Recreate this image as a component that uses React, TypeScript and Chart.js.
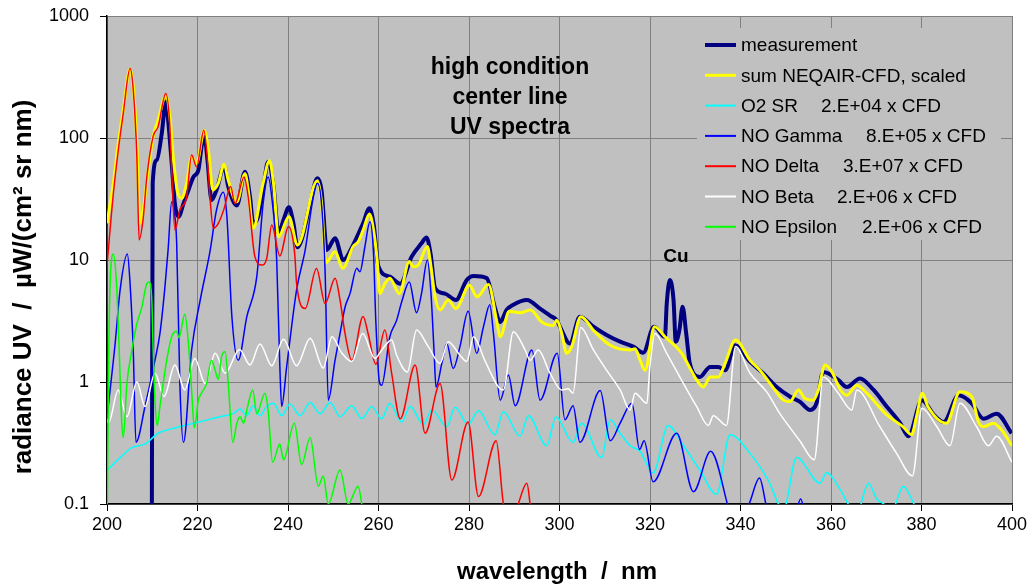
import React, { useEffect, useRef } from "react";
import { Chart, registerables } from "chart.js";

Chart.register(...registerables);

// ---------- axis ticks ----------
const xTicks = [200, 220, 240, 260, 280, 300, 320, 340, 360, 380, 400];
const yTicks = [0.1, 1, 10, 100, 1000];

// ---------- measurement ----------
const measX = [209.9, 210.1, 211.0, 212.1, 213.0, 213.5, 214.3, 215.0, 215.8, 216.9, 218.0, 219.1, 220.2, 220.9, 221.5, 222.2, 223.1, 224.2, 225.9, 226.8, 228.7, 230.5, 231.6, 232.3, 233.4, 234.5, 235.6, 236.8, 237.9, 239.0, 240.2, 241.2, 242.1, 243.0, 244.9, 246.5, 247.4, 248.6, 250.4, 252.2, 254.4, 256.6, 258.0, 258.9, 260.0, 262.5, 264.8, 267.3, 269.5, 270.6, 271.5, 272.5, 274.7, 277.1, 279.5, 281.0, 283.9, 285.7, 286.9, 288.3, 289.8, 292.8, 295.7, 297.9, 299.4, 300.1, 302.3, 304.5, 307.5, 310.4, 313.4, 316.3, 318.5, 320.9, 323.3, 323.7, 324.4, 325.2, 325.7, 326.5, 327.2, 328.0, 328.8, 331.0, 333.3, 335.1, 336.6, 338.8, 342.1, 345.0, 348.0, 350.9, 353.1, 355.4, 356.8, 358.3, 361.6, 363.5, 366.4, 369.4, 372.3, 375.3, 377.1, 380.1, 382.7, 384.9, 388.2, 391.1, 393.7, 396.6, 399.9];
const measY = [0.05, 42.6, 66, 109, 199, 141, 62, 29, 22.6, 29, 37.5, 48, 54.7, 85, 108, 66, 31, 37.5, 58, 40, 28, 53, 33, 20, 22.6, 37.5, 64, 40, 16.6, 21.3, 27, 20, 12.7, 14.6, 29, 46.8, 37.5, 12.1, 15.1, 10, 13.3, 20, 26.5, 20, 8.8, 7.3, 6.4, 10.6, 13.7, 15.3, 11.3, 5.9, 5.3, 4.7, 6.85, 7.4, 7.1, 4.1, 3.1, 3.9, 4.3, 4.7, 4.0, 3.5, 3.2, 2.84, 2.07, 3.43, 2.84, 2.43, 2.14, 1.95, 1.74, 2.84, 2.35, 4.4, 6.85, 4.7, 2.14, 2.67, 4.14, 2.5, 1.42, 1.1, 1.33, 1.33, 1.25, 2.0, 1.47, 1.18, 0.91, 0.76, 0.69, 0.59, 0.67, 1.21, 1.04, 0.91, 1.07, 0.86, 0.63, 0.46, 0.36, 0.71, 0.54, 0.47, 0.78, 0.67, 0.5, 0.55, 0.38];

// ---------- sum NEQAIR-CFD, scaled ----------
const sumX = [200.0, 201.4, 202.5, 203.6, 205.1, 205.8, 206.6, 207.3, 208.0, 209.1, 210.2, 211.3, 213.0, 213.9, 214.7, 215.5, 216.5, 217.6, 218.7, 219.8, 221.5, 222.4, 223.4, 224.6, 225.9, 226.8, 228.7, 230.5, 231.2, 232.3, 234.5, 235.9, 236.8, 237.9, 240.2, 242.1, 246.5, 247.4, 248.4, 250.4, 252.1, 254.4, 255.5, 256.6, 258.0, 258.9, 259.7, 260.3, 261.4, 262.5, 264.6, 266.8, 267.7, 268.8, 270.8, 271.5, 272.5, 273.6, 275.4, 277.1, 280.1, 281.8, 284.3, 286.1, 286.9, 288.9, 291.3, 293.6, 296.1, 298.6, 299.4, 300.5, 301.6, 302.7, 304.7, 307.8, 311.2, 315.6, 316.7, 317.8, 318.9, 321.0, 323.3, 327.0, 330.3, 331.8, 333.3, 335.1, 336.6, 338.9, 342.1, 344.3, 347.6, 349.5, 350.9, 352.8, 354.3, 356.1, 357.2, 358.7, 360.2, 362.1, 363.5, 365.7, 367.9, 372.3, 375.9, 377.8, 378.9, 380.2, 381.4, 385.5, 388.5, 391.1, 392.6, 393.7, 395.9, 397.8, 400.0];
const sumY = [20, 42.6, 90.5, 170, 366, 263, 90.5, 20, 25.7, 54.7, 103, 141, 221, 150, 66, 37.5, 32, 42.6, 70, 62, 115, 80, 37.5, 42.6, 61, 45, 30, 51, 37.5, 18.2, 42.6, 65, 42.6, 15.5, 22.6, 13.3, 44.7, 30, 9.5, 11.7, 8.55, 12.9, 14.1, 17.6, 23.8, 17.6, 10, 5.3, 6.4, 7.1, 5.3, 9.7, 8.8, 9.1, 12.9, 9.4, 5.0, 3.9, 4.7, 4.0, 6.2, 5.0, 6.3, 3.2, 2.35, 3.8, 3.7, 3.9, 3.1, 2.9, 3.2, 2.5, 1.72, 1.95, 3.43, 2.58, 2.0, 1.83, 1.87, 1.51, 1.25, 2.84, 2.35, 1.72, 1.04, 0.91, 1.1, 1.1, 1.42, 2.21, 1.51, 1.25, 0.86, 0.71, 0.69, 0.86, 0.73, 0.71, 0.86, 1.38, 1.21, 0.86, 0.78, 0.94, 0.81, 0.54, 0.43, 0.37, 0.52, 0.81, 0.63, 0.46, 0.83, 0.76, 0.47, 0.43, 0.46, 0.4, 0.3];

// ---------- O2 SR ----------
const o2X = [200.1, 202.9, 205.5, 208.4, 211.3, 215.0, 218.3, 221.3, 225.0, 227.9, 229.4, 230.9, 232.3, 233.8, 235.3, 236.8, 238.6, 240.4, 242.7, 244.9, 247.1, 249.3, 251.5, 254.1, 256.3, 258.5, 260.7, 262.5, 265.1, 267.0, 269.9, 271.8, 275.1, 276.9, 279.8, 282.1, 285.7, 287.6, 291.3, 293.1, 297.2, 299.2, 303.0, 304.9, 309.3, 311.2, 313.4, 315.6, 317.8, 320.7, 324.0, 327.4, 331.0, 334.7, 337.7, 342.1, 346.0, 349.5, 352.4, 357.6, 359.0, 362.1, 363.8, 365.5, 368.3, 370.1, 371.7, 373.5, 376.0, 377.8, 379.5];
const o2Y = [0.19, 0.24, 0.29, 0.31, 0.38, 0.42, 0.45, 0.48, 0.52, 0.55, 0.6, 0.53, 0.64, 0.53, 0.63, 0.67, 0.53, 0.66, 0.53, 0.68, 0.55, 0.68, 0.52, 0.64, 0.5, 0.63, 0.5, 0.67, 0.47, 0.63, 0.45, 0.59, 0.43, 0.62, 0.45, 0.58, 0.37, 0.57, 0.36, 0.53, 0.3, 0.52, 0.32, 0.46, 0.24, 0.49, 0.38, 0.3, 0.27, 0.18, 0.44, 0.3, 0.19, 0.12, 0.37, 0.26, 0.16, 0.09, 0.24, 0.148, 0.18, 0.13, 0.1, 0.08, 0.148, 0.11, 0.1, 0.09, 0.14, 0.11, 0.08];

// ---------- NO Gamma ----------
const gamX = [200.1, 201.8, 202.9, 204.5, 205.1, 205.8, 206.4, 208.4, 210.6, 211.7, 212.8, 213.5, 214.3, 214.8, 215.4, 216.1, 216.9, 218.7, 220.6, 222.8, 224.2, 225.7, 226.5, 227.6, 229.0, 230.9, 233.1, 234.5, 235.6, 236.4, 237.5, 238.2, 238.6, 239.7, 241.9, 243.8, 245.6, 246.5, 247.4, 248.2, 248.9, 250.4, 251.5, 252.6, 253.7, 255.2, 255.9, 257.0, 258.1, 258.9, 259.4, 260.2, 260.7, 262.5, 264.0, 265.1, 266.8, 268.4, 269.5, 270.8, 271.6, 272.3, 272.7, 274.0, 275.1, 276.5, 278.0, 279.8, 281.7, 283.2, 284.6, 285.4, 286.9, 288.7, 290.2, 293.9, 295.7, 299.5, 301.2, 303.0, 304.5, 309.0, 311.2, 313.4, 316.0, 317.7, 318.7, 320.7, 325.9, 329.6, 333.4, 337.1, 338.5, 341.9, 344.2, 345.6, 346.8, 352.0, 353.3, 354.3];
const gamY = [0.55, 2.07, 5.7, 11.2, 6.4, 1.83, 0.32, 0.63, 1.51, 2.5, 6.0, 12.1, 30, 25.7, 13.7, 0.97, 0.32, 1.83, 4.7, 12, 25.7, 36, 22.6, 3.43, 1.51, 3.43, 7.3, 29, 48, 33, 10, 1.33, 0.63, 1.33, 5.7, 12.1, 33, 42.6, 29, 8, 0.71, 1.51, 2.5, 4.1, 5.3, 8.55, 8.0, 12.9, 20.6, 11.3, 3.2, 1.0, 0.94, 2.35, 3.2, 4.5, 6.6, 3.7, 5.3, 10, 5.3, 1.72, 0.91, 1.42, 2.07, 1.29, 1.95, 3.8, 1.72, 2.84, 4.3, 2.5, 0.71, 1.14, 0.64, 1.83, 0.71, 1.72, 0.49, 0.64, 0.32, 0.85, 0.33, 0.46, 0.67, 0.28, 0.33, 0.152, 0.38, 0.126, 0.27, 0.1, 0.06, 0.1, 0.163, 0.1, 0.06, 0.08, 0.11, 0.08];

// ---------- NO Delta ----------
const delX = [200.0, 201.4, 202.5, 203.6, 205.1, 205.8, 206.6, 207.1, 208.0, 208.8, 210.2, 211.3, 213.0, 213.8, 214.3, 215.0, 216.1, 217.6, 218.7, 219.8, 221.4, 222.2, 222.8, 223.5, 224.6, 225.9, 227.3, 228.3, 230.3, 231.2, 232.7, 234.2, 235.3, 236.4, 238.2, 240.1, 241.5, 241.9, 243.8, 246.3, 248.2, 250.4, 251.5, 252.6, 254.1, 256.6, 257.7, 259.4, 261.4, 262.9, 264.8, 268.1, 270.3, 273.6, 276.2, 279.8, 282.1, 286.0, 287.6, 289.2, 290.9, 292.8, 293.5, 294.2];
const delY = [9, 35, 80, 160, 372, 250, 70, 14.6, 22, 48, 103, 124, 232, 141, 54.7, 17.6, 25.7, 33, 72.6, 58, 116, 66, 31, 18.2, 20, 26.5, 40, 29, 48, 33, 10.6, 9.1, 10.3, 19.4, 10.8, 18.8, 11, 6.4, 4.0, 8.5, 4.4, 7.1, 4.7, 2.5, 1.5, 3.45, 2.5, 1.4, 2.67, 1.18, 0.5, 1.38, 0.38, 0.97, 0.157, 0.47, 0.115, 0.33, 0.1, 0.06, 0.1, 0.148, 0.1, 0.06];

// ---------- NO Beta ----------
const betX = [200.0, 200.3, 202.5, 204.4, 206.6, 208.4, 210.6, 212.6, 215.0, 217.2, 219.4, 221.7, 223.9, 226.1, 229.3, 231.6, 233.8, 236.4, 239.0, 241.9, 244.9, 247.8, 249.7, 251.8, 254.1, 256.5, 259.2, 260.8, 262.9, 264.0, 266.4, 268.4, 271.0, 273.6, 275.4, 278.0, 279.5, 281.0, 283.5, 286.5, 287.6, 289.8, 292.4, 293.5, 295.3, 297.9, 300.5, 301.9, 303.0, 304.7, 307.5, 310.4, 313.4, 315.6, 316.7, 319.3, 320.0, 321.1, 323.7, 327.4, 330.3, 332.9, 334.0, 336.9, 338.9, 342.1, 345.8, 348.7, 350.2, 353.1, 356.3, 358.3, 361.6, 364.6, 365.7, 370.8, 374.5, 378.0, 380.1, 383.4, 386.3, 388.5, 392.2, 394.8, 396.6, 400.0];
const betY = [0.5, 0.46, 0.86, 0.52, 1.0, 0.63, 1.18, 0.76, 1.38, 0.86, 1.56, 0.97, 1.72, 1.18, 1.85, 1.38, 2.05, 1.36, 2.24, 1.36, 2.28, 1.3, 2.35, 1.75, 1.47, 2.5, 1.56, 1.85, 2.21, 1.66, 1.21, 2.67, 1.95, 1.42, 2.14, 1.66, 1.47, 2.35, 1.5, 0.91, 0.86, 2.58, 1.83, 1.51, 1.83, 1.18, 0.86, 0.88, 0.81, 2.8, 1.83, 1.25, 0.86, 0.59, 0.81, 0.67, 1.36, 2.5, 1.72, 0.97, 0.63, 0.44, 0.53, 0.44, 1.95, 1.18, 0.83, 0.55, 0.46, 0.33, 0.23, 1.1, 0.81, 0.59, 0.86, 0.43, 0.26, 0.17, 0.61, 0.43, 0.3, 0.67, 0.43, 0.3, 0.36, 0.22];

// ---------- NO Epsilon ----------
const epsX = [200.0, 200.4, 200.8, 201.4, 202.1, 202.7, 203.2, 203.6, 204.4, 205.5, 206.6, 207.7, 208.8, 209.3, 209.9, 210.2, 210.6, 211.1, 211.7, 213.2, 214.3, 215.4, 215.9, 217.2, 218.0, 218.7, 219.3, 220.2, 220.9, 222.0, 223.1, 223.9, 224.6, 225.3, 226.1, 226.8, 227.8, 228.7, 229.4, 230.2, 230.9, 232.2, 233.1, 234.9, 235.6, 236.6, 238.2, 239.0, 241.4, 243.0, 244.9, 246.7, 247.8, 248.9, 251.5, 253.3, 255.5, 256.5];
const epsY = [0.05, 2, 8, 11.2, 6.4, 1.83, 0.52, 0.35, 0.97, 1.83, 3.0, 4.1, 6.4, 6.6, 4.7, 1.83, 0.71, 0.44, 0.63, 1.51, 2.35, 2.6, 2.3, 3.6, 2.07, 0.86, 0.42, 0.71, 0.81, 0.97, 1.51, 1.25, 1.05, 1.6, 1.77, 0.97, 0.32, 0.46, 0.52, 0.46, 0.59, 0.86, 0.55, 0.81, 0.59, 0.22, 0.31, 0.23, 0.46, 0.21, 0.35, 0.14, 0.17, 0.1, 0.19, 0.1, 0.14, 0.09];

// ---------- legend ----------
const legendNames = ["measurement", "sum NEQAIR-CFD, scaled", "O2 SR", "NO Gamma", "NO Delta", "NO Beta", "NO Epsilon"];
const legendFactors = ["", "", "2.E+04 x CFD", "8.E+05 x CFD", "3.E+07 x CFD", "2.E+06 x CFD", "2.E+06 x CFD"];
const titleLines = ["high condition", "center line", "UV spectra"];

const COLORS = ["#000080", "#FFFF00", "#00FFFF", "#0000FF", "#FF0000", "#FFFFFF", "#00FF00"];
const WIDTHS = [4, 3, 1.5, 1.5, 1.5, 1.5, 1.5];

const FONT = "'Liberation Sans', Arial, Helvetica, sans-serif";

function pts(xs: number[], ys: number[]) {
  return xs.map((x, i) => ({ x, y: ys[i] }));
}

const decorPlugin = {
  id: "decor",
  beforeDraw(chart: any) {
    const { ctx, chartArea: a } = chart;
    ctx.save();
    ctx.fillStyle = "#FFFFFF";
    ctx.fillRect(0, 0, chart.width, chart.height);
    ctx.fillStyle = "#C0C0C0";
    ctx.fillRect(a.left, a.top, a.right - a.left, a.bottom - a.top);
    ctx.restore();
  },
  afterDraw(chart: any) {
    const { ctx } = chart;
    ctx.save();
    // legend box
    ctx.fillStyle = "#C0C0C0";
    ctx.fillRect(697, 28, 304, 212);
    const factorX = [0, 0, 821, 866, 843, 837, 862];
    for (let i = 0; i < legendNames.length; i++) {
      const cy = 45 + i * 30.3;
      ctx.strokeStyle = COLORS[i];
      ctx.lineWidth = i === 0 ? 4 : i === 1 ? 3 : 2;
      ctx.beginPath();
      ctx.moveTo(705, cy);
      ctx.lineTo(736, cy);
      ctx.stroke();
      ctx.fillStyle = "#000";
      ctx.font = `19px ${FONT}`;
      ctx.textBaseline = "middle";
      ctx.textAlign = "left";
      ctx.fillText(legendNames[i], 741, cy + 1);
      if (legendFactors[i]) ctx.fillText(legendFactors[i], factorX[i], cy + 1);
    }
    // title block
    ctx.font = `bold 23px ${FONT}`;
    ctx.textAlign = "center";
    ctx.textBaseline = "alphabetic";
    titleLines.forEach((t, i) => ctx.fillText(t, 510, 74 + i * 30));
    // Cu label
    ctx.font = `bold 19px ${FONT}`;
    ctx.fillText("Cu", 676, 262);
    // x axis title
    ctx.font = `bold 24px ${FONT}`;
    ctx.fillText("wavelength  /  nm", 557, 579);
    // y axis title
    ctx.font = `bold 26px ${FONT}`;
    ctx.translate(31, 287);
    ctx.rotate(-Math.PI / 2);
    ctx.fillText("radiance UV  /  \u00b5W/(cm\u00b2 sr nm)", 0, 0);
    ctx.restore();
  },
};

export default function App() {
  const ref = useRef<HTMLCanvasElement | null>(null);
  useEffect(() => {
    if (!ref.current) return;
    const series = [
      pts(measX, measY),
      pts(sumX, sumY),
      pts(o2X, o2Y),
      pts(gamX, gamY),
      pts(delX, delY),
      pts(betX, betY),
      pts(epsX, epsY),
    ];
    const chart = new Chart(ref.current, {
      type: "line",
      data: {
        datasets: series.map((d, i) => ({
          label: legendNames[i],
          data: d,
          borderColor: COLORS[i],
          backgroundColor: COLORS[i],
          borderWidth: WIDTHS[i],
          pointRadius: 0,
          cubicInterpolationMode: "monotone",
          fill: false,
          order: 7 - i,
          clip: 0,
        })),
      },
      plugins: [decorPlugin],
      options: {
        animation: false,
        responsive: false,
        devicePixelRatio: 1,
        layout: { padding: { left: 0, right: 20, top: 16, bottom: 0 } },
        plugins: { legend: { display: false }, tooltip: { enabled: false }, title: { display: false } },
        scales: {
          x: {
            type: "linear",
            min: 200,
            max: 400,
            afterBuildTicks: (s: any) => {
              s.ticks = xTicks.map((v) => ({ value: v }));
            },
            afterFit: (s: any) => {
              s.height = 81;
              s.paddingLeft = 0;
              s.paddingRight = 0;
            },
            grid: { color: "#808080", lineWidth: 1, tickColor: "#000", tickLength: 7, drawTicks: true },
            border: { color: "#000", width: 1.5 },
            ticks: {
              autoSkip: false,
              maxRotation: 0,
              padding: 3,
              color: "#000",
              font: { family: FONT, size: 18 },
              callback: (v: any) => String(v),
            },
          },
          y: {
            type: "logarithmic",
            min: 0.1,
            max: 1000,
            afterBuildTicks: (s: any) => {
              s.ticks = yTicks.map((v) => ({ value: v }));
            },
            afterFit: (s: any) => {
              s.width = 107;
              s.paddingTop = 0;
              s.paddingBottom = 0;
            },
            grid: { color: "#808080", lineWidth: 1, tickColor: "#000", tickLength: 7, drawTicks: true },
            border: { color: "#000", width: 1.5 },
            ticks: {
              autoSkip: false,
              padding: 11,
              color: "#000",
              font: { family: FONT, size: 18 },
              callback: (v: any) => {
                const n = Number(v);
                return n < 1 ? n.toFixed(1) : String(Math.round(n));
              },
            },
          },
        },
      },
    } as any);
    return () => chart.destroy();
  }, []);
  return (
    <div style={{ position: "absolute", left: 0, top: 0, width: 1032, height: 585 }}>
      <canvas ref={ref} width={1032} height={585} style={{ display: "block", width: 1032, height: 585 }} />
    </div>
  );
}
